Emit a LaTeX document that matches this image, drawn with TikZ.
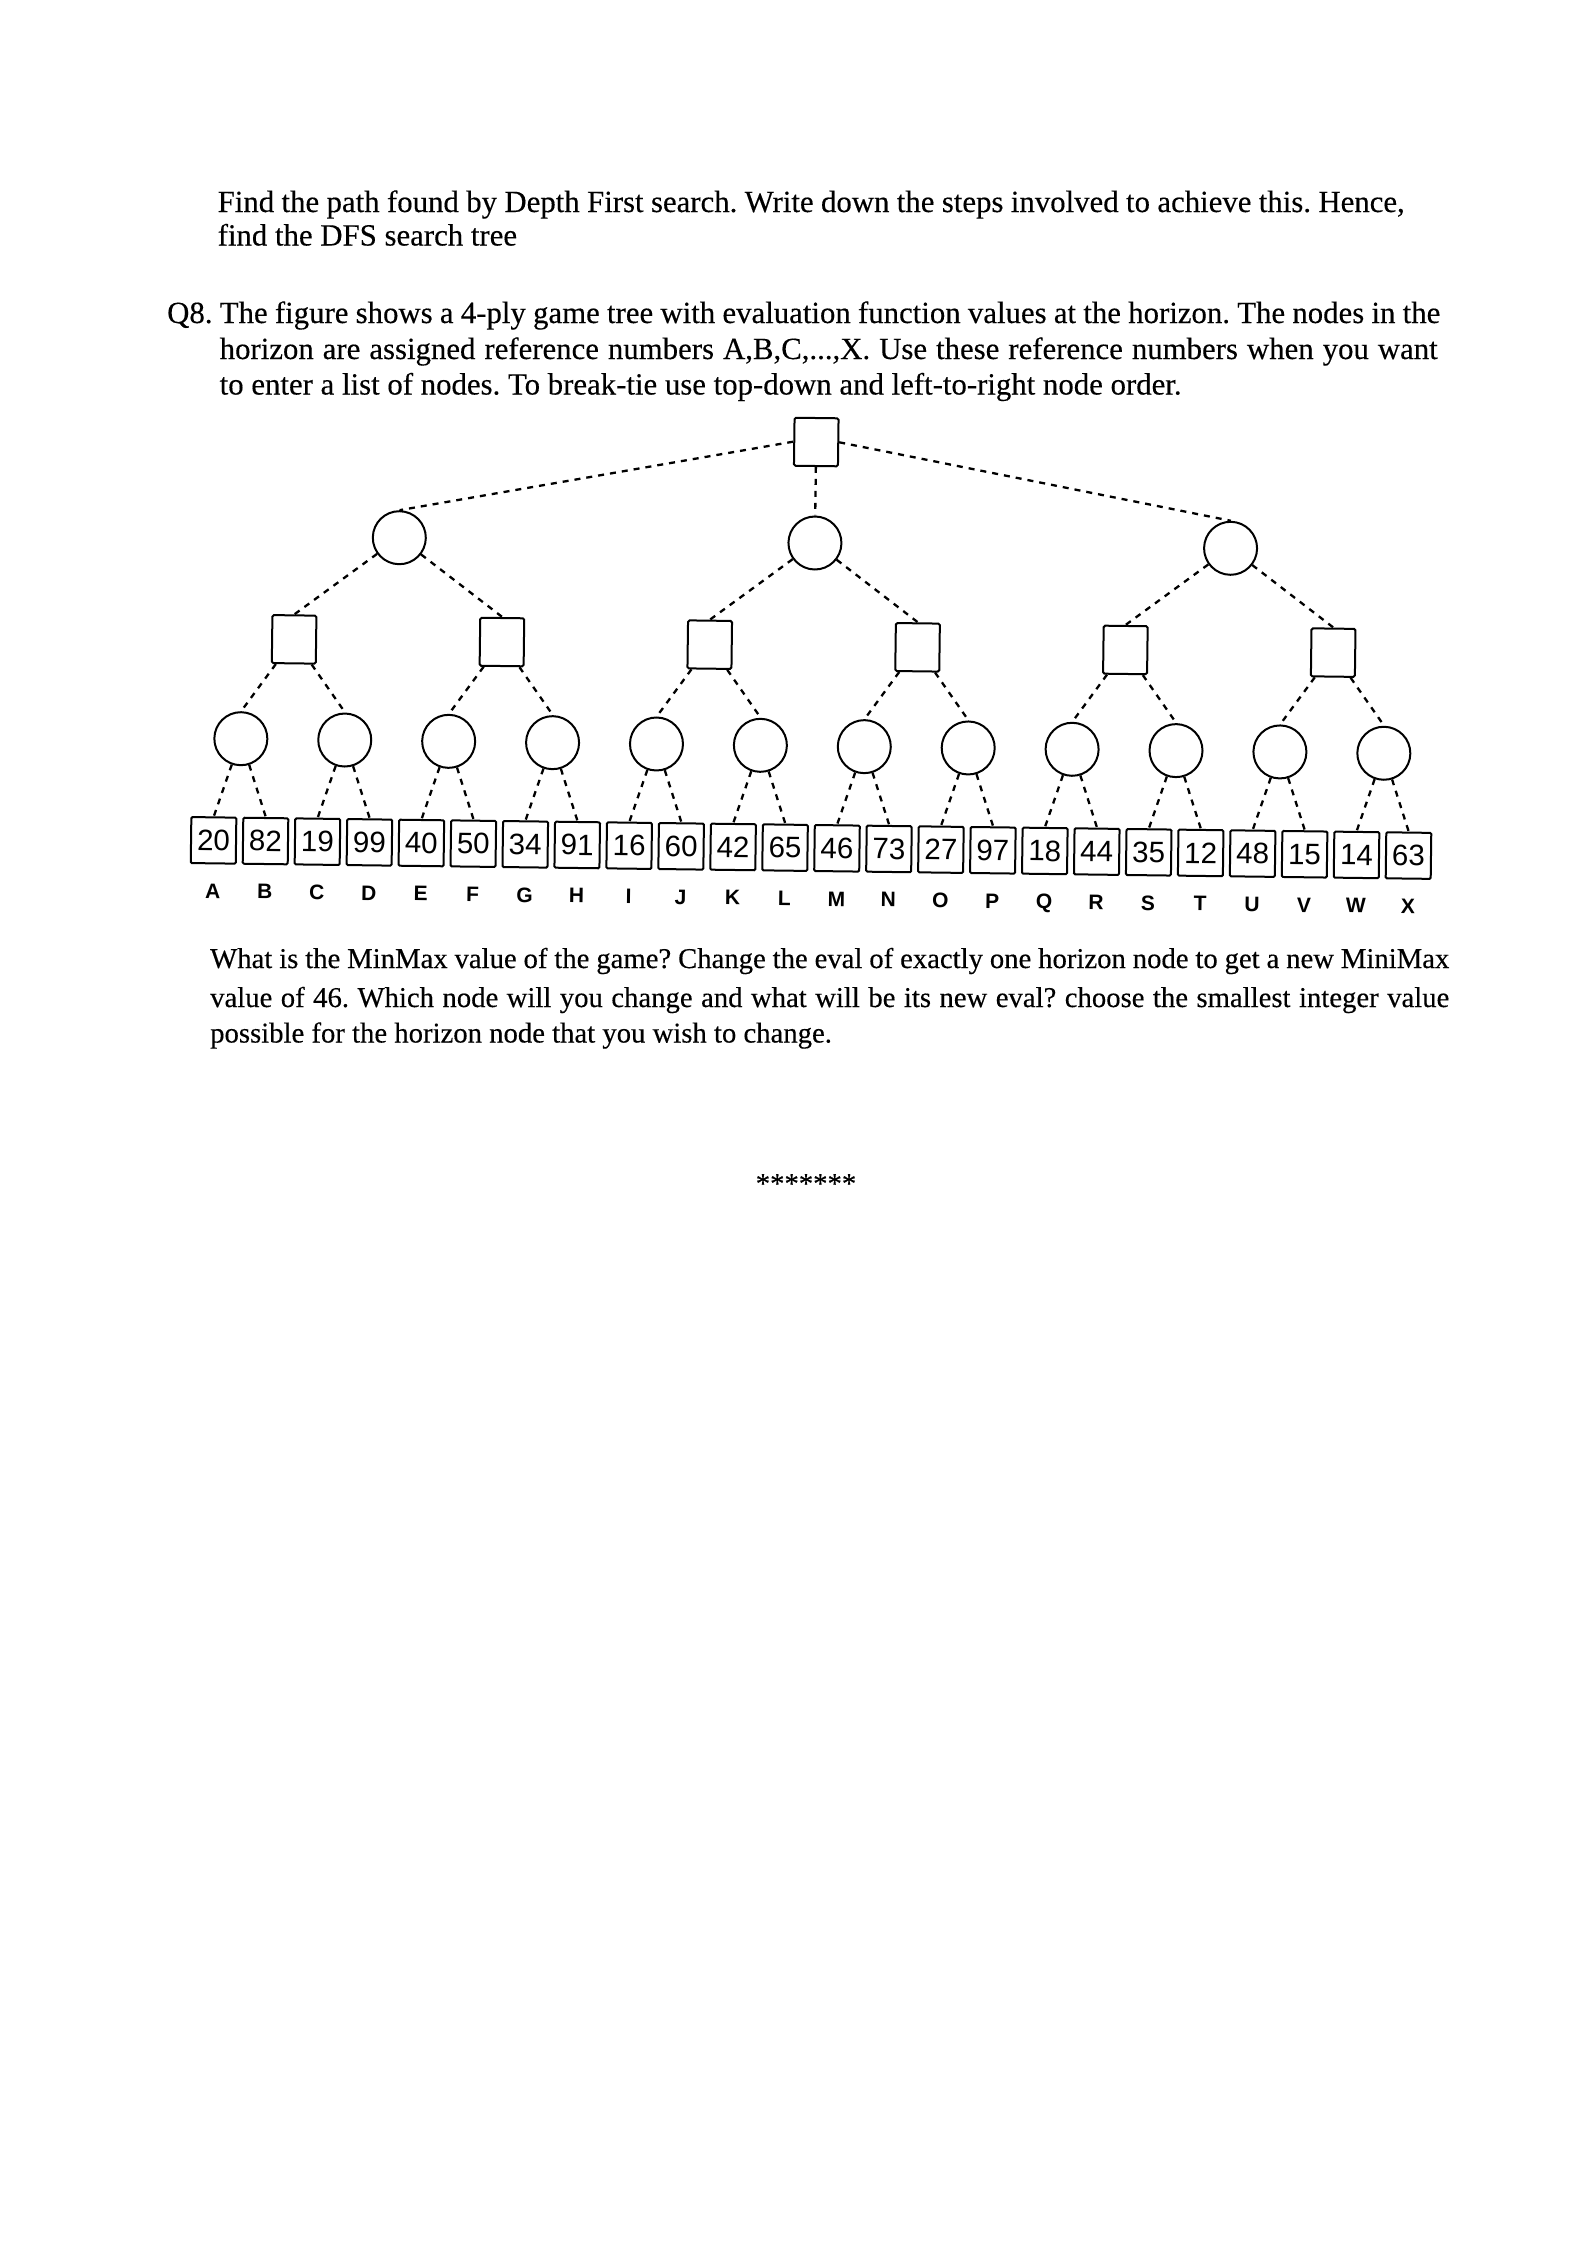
\documentclass[tikz,border=0pt]{standalone}
\usepackage{fontspec}
\setmainfont{Liberation Serif}
\newfontfamily\bodyfont{Liberation Serif}[FakeBold=0.3]
\newfontfamily\leaffont{Liberation Sans}
\frenchspacing
\begin{document}
\begin{tikzpicture}[x=1pt,y=-1pt,
  maxbox/.style={draw, line width=2pt, rounded corners=1.5pt, minimum width=44pt, minimum height=48pt, inner sep=0pt},
  minnode/.style={draw, circle, line width=2pt, minimum size=53pt, inner sep=0pt},
  leafbox/.style={draw, line width=2pt, rounded corners=1.2pt, minimum width=45pt, minimum height=46pt, inner sep=0pt, font=\leaffont\fontsize{29.5pt}{30pt}\selectfont},
  leaflabel/.style={font=\leaffont\bfseries\fontsize{21pt}{22pt}\selectfont, inner sep=0pt, anchor=base},
  edge/.style={line width=2.3pt, dash pattern=on 6pt off 6pt},
  txt/.style={anchor=base west, inner sep=0pt, font=\bodyfont\fontsize{30.8pt}{36pt}\selectfont},
  btxt/.style={anchor=base west, inner sep=0pt, font=\bodyfont\fontsize{28.7pt}{36pt}\selectfont},
]
\fill[white] (0,0) rectangle (1579,2249);
\useasboundingbox (0,0) rectangle (1579,2249);
% texts
\node[txt] (p1a) at (217.5,212) {\makebox[1187pt][s]{Find the path found by Depth First search. Write down the steps involved to achieve this. Hence,}};
\node[txt] (p1b) at (217.5,245.5) {find the DFS search tree};
\node[txt] (q1) at (167,323) {\makebox[1273pt][s]{Q8. The figure shows a 4-ply game tree with evaluation function values at the horizon. The nodes in the}};
\node[txt] (q2) at (219.5,359) {\makebox[1218pt][s]{horizon are assigned reference numbers A,B,C,...,X. Use these reference numbers when you want}};
\node[txt] (q3) at (219.5,394.5) {to enter a list of nodes. To break-tie use top-down and left-to-right node order.};
\node[btxt] (b1) at (210,968) {\makebox[1239pt][s]{What is the MinMax value of the game? Change the eval of exactly one horizon node to get a new MiniMax}};
\node[btxt] (b2) at (210,1007) {\makebox[1239pt][s]{value of 46. Which node will you change and what will be its new eval? choose the smallest integer value}};
\node[btxt] (b3) at (210,1042.5) {possible for the horizon node that you wish to change.};
\node[btxt, anchor=base] (stars) at (806,1193) {*******};
\begin{scope}[rotate around={-0.73:(815,650)}, transform shape]
% leaves
\foreach \v [count=\i from 0] in {20,82,19,99,40,50,34,91,16,60,42,65,46,73,27,97,18,44,35,12,48,15,14,63}
  \node[leafbox] (leaf\i) at ({216+51.96*\i},848) {\v};
\foreach \l [count=\i from 0] in {A,B,C,D,E,F,G,H,I,J,K,L,M,N,O,P,Q,R,S,T,U,V,W,X}
  \node[leaflabel] (lab\i) at ({216+51.96*\i},906) {\l};
% level 3 (min circles)
\foreach \j in {0,...,11}
  \node[minnode] (c\j) at ({242+103.92*\j},746) {};
% level 2 (max squares)
\foreach \k in {0,...,5}
  \node[maxbox] (s\k) at ({294+207.84*\k},646) {};
% level 1 (min circles)
\foreach \m in {0,1,2}
  \node[minnode] (m\m) at ({397.9+415.68*\m},543) {};
% root
\node[maxbox] (root) at (813.6,442) {};
% edges
\foreach \j in {0,...,11}{
  \pgfmathtruncatemacro\a{2*\j}
  \pgfmathtruncatemacro\b{2*\j+1}
  \draw[edge] (c\j) -- (leaf\a.north);
  \draw[edge] (c\j) -- (leaf\b.north);
}
\foreach \k in {0,...,5}{
  \pgfmathtruncatemacro\a{2*\k}
  \pgfmathtruncatemacro\b{2*\k+1}
  \draw[edge] (s\k) -- (c\a.north);
  \draw[edge] (s\k) -- (c\b.north);
}
\foreach \m in {0,1,2}{
  \pgfmathtruncatemacro\a{2*\m}
  \pgfmathtruncatemacro\b{2*\m+1}
  \draw[edge] (m\m) -- (s\a.north);
  \draw[edge] (m\m) -- (s\b.north);
}
\draw[edge] (root.west) -- (m0.north);
\draw[edge] (root.south) -- (m1.north);
\draw[edge] (root.east) -- (m2.north);
\end{scope}
\end{tikzpicture}
\end{document}
